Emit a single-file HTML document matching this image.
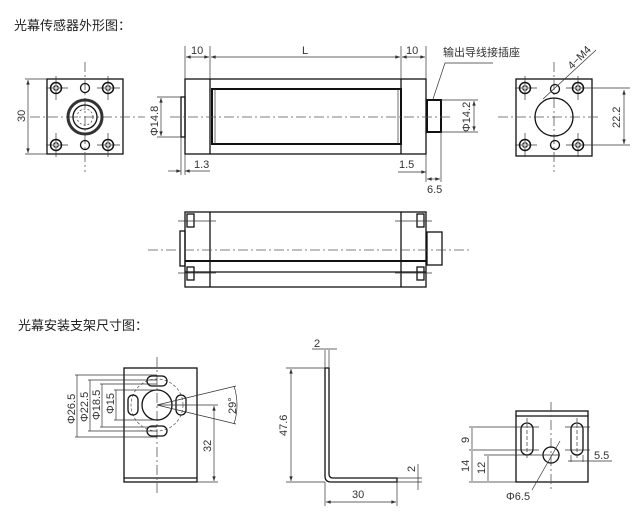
<!DOCTYPE html>
<html><head><meta charset="utf-8"><style>
html,body{margin:0;padding:0;background:#fff;width:642px;height:522px;overflow:hidden}
svg{display:block}
text{font-family:"Liberation Sans","Noto Sans CJK SC",sans-serif;font-size:11px;fill:#333}
.t{font-size:13px;fill:#222}
.o{fill:none;stroke:#111;stroke-width:1.3}
.b{fill:none;stroke:#111;stroke-width:2}
.d{fill:none;stroke:#333;stroke-width:0.7}
.c{fill:none;stroke:#555;stroke-width:0.8;stroke-dasharray:10 3 2 3}
</style></head><body>
<svg width="642" height="522" viewBox="0 0 642 522" xmlns="http://www.w3.org/2000/svg">
<defs>
<marker id="a" viewBox="0 0 8 6" refX="8" refY="3" markerWidth="7" markerHeight="5" orient="auto-start-reverse"><path d="M0,0L8,3L0,6z" fill="#333"/></marker>
<g id="scr"><circle r="5.5" fill="none" stroke="#111" stroke-width="1.5"/><circle r="3" fill="#333"/><path d="M-2.5,0H2.5M0,-2.5V2.5" stroke="#fff" stroke-width="1"/></g>
</defs>
<text class="t" x="14" y="30">光幕传感器外形图：</text>
<text class="t" x="18" y="330">光幕安装支架尺寸图：</text>

<!-- left end view -->
<rect class="o" x="47" y="79" width="76" height="75"/>
<line class="c" x1="30" y1="117" x2="145" y2="117"/>
<line class="c" x1="85" y1="62" x2="85" y2="172"/>
<line class="d" x1="46" y1="88" x2="68" y2="88"/><line class="d" x1="97" y1="88" x2="120" y2="88"/>
<line class="d" x1="46" y1="145" x2="68" y2="145"/><line class="d" x1="97" y1="145" x2="120" y2="145"/>
<line class="d" x1="56" y1="76" x2="56" y2="100"/><line class="d" x1="108" y1="76" x2="108" y2="100"/>
<line class="d" x1="56" y1="133" x2="56" y2="157"/><line class="d" x1="108" y1="133" x2="108" y2="157"/>
<use href="#scr" x="56" y="88"/><use href="#scr" x="108" y="88"/><use href="#scr" x="56" y="145"/><use href="#scr" x="108" y="145"/>
<circle class="o" cx="85" cy="88" r="4.5"/><circle class="o" cx="85" cy="145" r="4.5"/>
<circle cx="85" cy="117" r="17" fill="none" stroke="#333" stroke-width="3"/>
<circle class="o" cx="85" cy="117" r="12"/>
<circle cx="85" cy="117" r="8" fill="none" stroke="#333" stroke-width="0.7" stroke-dasharray="2 2"/>
<line class="d" x1="25" y1="79" x2="47" y2="79"/><line class="d" x1="25" y1="154" x2="47" y2="154"/>
<line class="d" x1="28" y1="80" x2="28" y2="153" marker-start="url(#a)" marker-end="url(#a)"/>
<text x="0" y="0" transform="translate(25,122) rotate(-90)">30</text>

<!-- side view top -->
<rect class="o" x="185" y="79" width="241" height="75"/>
<line class="o" x1="210" y1="79" x2="210" y2="154"/><line class="o" x1="401" y1="79" x2="401" y2="154"/>
<rect class="b" x="212" y="89" width="189" height="55"/>
<line class="d" x1="215" y1="89" x2="215" y2="144"/><line class="d" x1="398" y1="89" x2="398" y2="144"/>
<rect class="o" x="181" y="97" width="4" height="40"/>
<rect class="b" x="427" y="100" width="14" height="32"/>
<line class="c" x1="170" y1="117" x2="450" y2="117"/>
<line class="d" x1="185" y1="46" x2="185" y2="79"/><line class="d" x1="210" y1="46" x2="210" y2="79"/>
<line class="d" x1="401" y1="46" x2="401" y2="79"/><line class="d" x1="426" y1="46" x2="426" y2="79"/>
<line class="d" x1="186" y1="57" x2="209" y2="57" marker-start="url(#a)" marker-end="url(#a)"/>
<line class="d" x1="211" y1="57" x2="400" y2="57" marker-start="url(#a)" marker-end="url(#a)"/>
<line class="d" x1="402" y1="57" x2="425" y2="57" marker-start="url(#a)" marker-end="url(#a)"/>
<text x="191" y="54">10</text><text x="302" y="54">L</text><text x="406" y="54">10</text>
<line class="d" x1="157" y1="97" x2="181" y2="97"/><line class="d" x1="157" y1="137" x2="181" y2="137"/>
<line class="d" x1="161" y1="98" x2="161" y2="136" marker-start="url(#a)" marker-end="url(#a)"/>
<text transform="translate(158,136) rotate(-90)" font-size="10">Φ14.8</text>
<line class="d" x1="181" y1="137" x2="181" y2="175"/><line class="d" x1="185" y1="154" x2="185" y2="175"/>
<line class="d" x1="168" y1="171" x2="181" y2="171" marker-end="url(#a)"/>
<line class="d" x1="210" y1="171" x2="185" y2="171" marker-end="url(#a)"/>
<text x="194" y="168">1.3</text>
<line class="d" x1="441" y1="100" x2="478" y2="100"/><line class="d" x1="441" y1="132" x2="478" y2="132"/>
<line class="d" x1="474" y1="101" x2="474" y2="131" marker-start="url(#a)" marker-end="url(#a)"/>
<text transform="translate(470,132) rotate(-90)" font-size="10">Φ14.2</text>
<line class="d" x1="426" y1="154" x2="426" y2="182"/><line class="d" x1="441" y1="132" x2="441" y2="182"/>
<line class="d" x1="398" y1="172" x2="426" y2="172" marker-end="url(#a)"/>
<text x="399" y="168">1.5</text>
<line class="d" x1="427" y1="179" x2="440" y2="179" marker-start="url(#a)" marker-end="url(#a)"/>
<text x="427" y="193">6.5</text>
<text x="443" y="56" font-size="11">输出导线接插座</text>
<polyline class="d" points="493,63 445,63 433,99"/>

<!-- right end view -->
<rect class="o" x="516" y="79" width="76" height="77"/>
<line class="c" x1="498" y1="117" x2="600" y2="117"/>
<line class="c" x1="554" y1="62" x2="554" y2="172"/>
<line class="d" x1="515" y1="88" x2="537" y2="88"/><line class="d" x1="566" y1="88" x2="630" y2="88"/>
<line class="d" x1="515" y1="145" x2="537" y2="145"/><line class="d" x1="566" y1="145" x2="630" y2="145"/>
<line class="d" x1="525" y1="76" x2="525" y2="100"/><line class="d" x1="578" y1="76" x2="578" y2="100"/>
<line class="d" x1="525" y1="133" x2="525" y2="157"/><line class="d" x1="578" y1="133" x2="578" y2="157"/>
<use href="#scr" x="525" y="88"/><use href="#scr" x="578" y="88"/><use href="#scr" x="525" y="145"/><use href="#scr" x="578" y="145"/>
<circle class="o" cx="555" cy="89" r="4.5"/><circle class="o" cx="555" cy="145" r="4.5"/>
<circle class="o" cx="554" cy="117" r="19"/>
<line class="d" x1="543" y1="99" x2="596" y2="50"/>
<text transform="translate(572,70) rotate(-45)" font-size="9">4−M4</text>
<line class="d" x1="624" y1="90" x2="624" y2="144" marker-start="url(#a)" marker-end="url(#a)"/>
<text transform="translate(620,128) rotate(-90)" font-size="10">22.2</text>

<!-- side view bottom -->
<rect class="o" x="185" y="212" width="241" height="75"/>
<line class="o" x1="210" y1="212" x2="210" y2="287"/><line class="o" x1="401" y1="212" x2="401" y2="287"/>
<line class="b" x1="185" y1="261" x2="426" y2="261"/>
<line class="o" x1="185" y1="272" x2="426" y2="272"/>
<rect class="o" x="180" y="231" width="5" height="35"/>
<rect class="o" x="427" y="232" width="15" height="33"/>
<line class="c" x1="148" y1="250" x2="470" y2="250"/>
<rect class="o" x="187" y="214" width="7" height="13"/><rect class="o" x="187" y="267" width="7" height="13"/>
<rect class="o" x="417" y="214" width="7" height="13"/><rect class="o" x="417" y="267" width="7" height="13"/>
<line class="d" x1="178" y1="221" x2="216" y2="221"/><line class="d" x1="395" y1="221" x2="432" y2="221"/>
<line class="d" x1="178" y1="273" x2="216" y2="273"/><line class="d" x1="395" y1="273" x2="432" y2="273"/>

<!-- bracket front -->
<rect class="o" x="124" y="368" width="73" height="114"/>
<line class="o" x1="124" y1="478" x2="197" y2="478"/>
<line class="c" x1="157" y1="357" x2="157" y2="495"/>
<circle cx="157" cy="405" r="26" fill="none" stroke="#555" stroke-width="0.7" stroke-dasharray="3 2"/>
<circle class="o" cx="157" cy="405" r="15"/>
<rect class="o" x="147" y="376" width="20" height="10" rx="5"/>
<rect class="o" x="147" y="426" width="20" height="10" rx="5"/>
<rect class="o" x="128" y="395" width="10" height="20" rx="5"/>
<rect class="o" x="176" y="395" width="10" height="20" rx="5"/>
<line class="d" x1="75" y1="375" x2="157" y2="375"/><line class="d" x1="75" y1="437" x2="157" y2="437"/>
<line class="d" x1="88" y1="380" x2="157" y2="380"/><line class="d" x1="88" y1="431" x2="157" y2="431"/>
<line class="d" x1="100" y1="384" x2="157" y2="384"/><line class="d" x1="100" y1="427" x2="157" y2="427"/>
<line class="d" x1="114" y1="390" x2="157" y2="390"/><line class="d" x1="114" y1="420" x2="157" y2="420"/>
<line class="d" x1="77" y1="375" x2="77" y2="437"/><line class="d" x1="90" y1="380" x2="90" y2="431"/>
<line class="d" x1="102" y1="384" x2="102" y2="427"/><line class="d" x1="116" y1="390" x2="116" y2="420"/>
<text transform="translate(75,424) rotate(-90)" font-size="10">Φ26.5</text>
<text transform="translate(88,422) rotate(-90)" font-size="10">Φ22.5</text>
<text transform="translate(100,420) rotate(-90)" font-size="10">Φ18.5</text>
<text transform="translate(114,414) rotate(-90)" font-size="10">Φ15</text>
<line class="d" x1="157" y1="405" x2="236" y2="386"/><line class="d" x1="157" y1="405" x2="236" y2="424"/>
<line class="d" x1="157" y1="405" x2="218" y2="405"/>
<path class="d" d="M234,386 Q240,405 234,424"/>
<text transform="translate(236,414) rotate(-90)" font-size="10">29°</text>
<line class="d" x1="197" y1="482" x2="218" y2="482"/>
<line class="d" x1="214" y1="406" x2="214" y2="481" marker-start="url(#a)" marker-end="url(#a)"/>
<text transform="translate(211,452) rotate(-90)" font-size="10">32</text>

<!-- L bracket -->
<path class="o" d="M325,368 H329 V474 Q329,478 333,478 H397 V482 H331 Q325,482 325,476 Z"/>
<line class="d" x1="286" y1="368" x2="325" y2="368"/><line class="d" x1="286" y1="482" x2="325" y2="482"/>
<line class="d" x1="291" y1="369" x2="291" y2="481" marker-start="url(#a)" marker-end="url(#a)"/>
<text transform="translate(287,436) rotate(-90)" font-size="11">47.6</text>
<line class="d" x1="325" y1="350" x2="325" y2="368"/><line class="d" x1="329" y1="350" x2="329" y2="368"/>
<line class="d" x1="312" y1="349" x2="337" y2="349"/>
<text x="314" y="347">2</text>
<line class="d" x1="325" y1="482" x2="325" y2="506"/><line class="d" x1="397" y1="482" x2="397" y2="506"/>
<line class="d" x1="326" y1="502" x2="396" y2="502" marker-start="url(#a)" marker-end="url(#a)"/>
<text x="352" y="498">30</text>
<line class="d" x1="397" y1="478" x2="422" y2="478"/><line class="d" x1="397" y1="482" x2="422" y2="482"/>
<line class="d" x1="418" y1="464" x2="418" y2="490"/>
<text transform="translate(415,472) rotate(-90)">2</text>

<!-- right bracket view -->
<rect class="o" x="516" y="411" width="72" height="71"/>
<line class="o" x1="516" y1="416" x2="588" y2="416"/>
<rect class="o" x="521" y="423" width="12" height="32" rx="6"/>
<rect class="o" x="571" y="423" width="12" height="32" rx="6"/>
<line class="d" x1="527" y1="418" x2="527" y2="460" stroke-dasharray="4 2"/>
<line class="d" x1="577" y1="418" x2="577" y2="460" stroke-dasharray="4 2"/>
<line class="c" x1="551" y1="402" x2="551" y2="490"/>
<circle class="o" cx="551" cy="455" r="8"/>
<line class="d" x1="469" y1="427" x2="539" y2="427"/><line class="d" x1="565" y1="427" x2="590" y2="427"/>
<line class="d" x1="469" y1="450" x2="539" y2="450"/><line class="d" x1="565" y1="450" x2="590" y2="450"/>
<line class="d" x1="484" y1="455" x2="560" y2="455"/>
<line class="d" x1="469" y1="482" x2="516" y2="482"/>
<line class="d" x1="472" y1="428" x2="472" y2="449"/><line class="d" x1="472" y1="451" x2="472" y2="481"/>
<line class="d" x1="488" y1="456" x2="488" y2="481"/>
<text transform="translate(469,443) rotate(-90)" font-size="10">9</text>
<text transform="translate(469,472) rotate(-90)" font-size="10">14</text>
<text transform="translate(485,474) rotate(-90)" font-size="10">12</text>
<line class="d" x1="571" y1="455" x2="571" y2="462"/><line class="d" x1="583" y1="455" x2="583" y2="462"/>
<line class="d" x1="568" y1="461" x2="612" y2="461"/>
<text x="594" y="459">5.5</text>
<line class="d" x1="532" y1="490" x2="560" y2="441"/>
<text x="506" y="500">Φ6.5</text>
</svg>
</body></html>
